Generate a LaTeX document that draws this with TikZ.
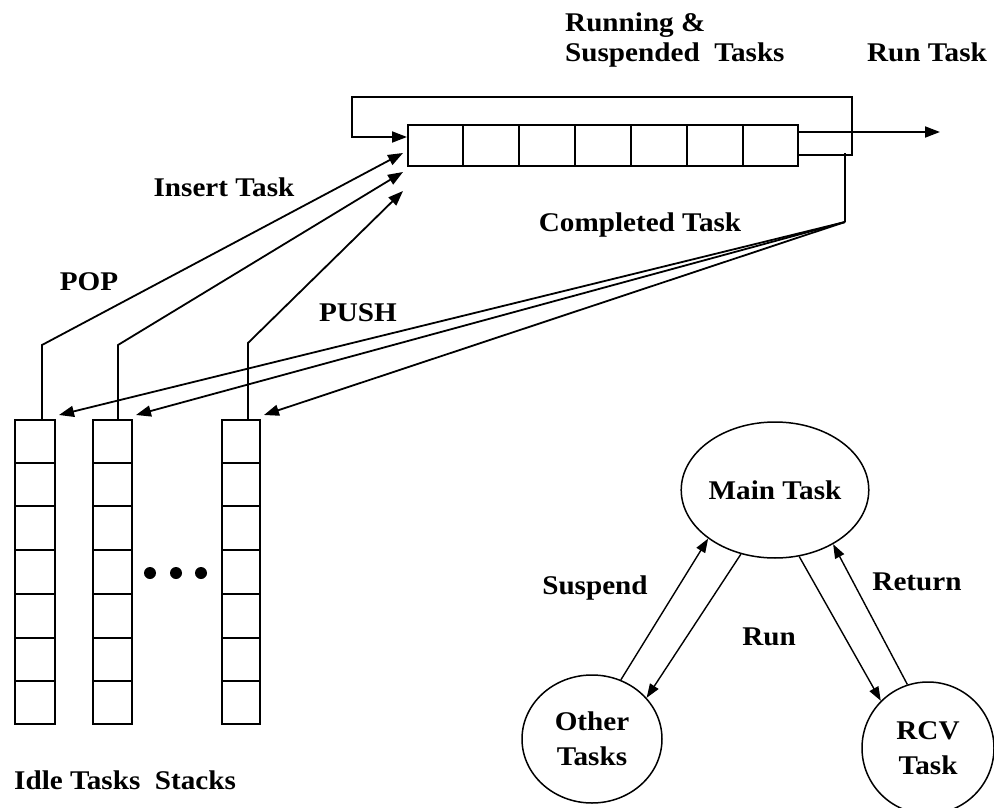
\documentclass[tikz,border=0pt]{standalone}
\usepackage{fontspec}
\setmainfont{Liberation Serif}
\newfontfamily\lblfont{Liberation Serif}[FakeStretch=1.08]
\usetikzlibrary{arrows.meta,shapes.geometric,calc}
\begin{document}
\begin{tikzpicture}[x=1pt,y=-1pt,
  lbl/.style={font=\lblfont\fontsize{27}{30}\bfseries\selectfont, inner sep=0pt},
  ln/.style={line width=1.8pt},
  arr/.style={line width=1.8pt,-{Triangle[length=15pt,width=11pt]}},
  sarr/.style={line width=1.4pt,-{Triangle[length=14pt,width=10pt]}},
  cellbox/.style={draw,line width=2pt,inner sep=0pt,anchor=north west},
  state/.style={draw,ellipse,line width=1.5pt,inner sep=0pt,align=center,
    font=\lblfont\fontsize{27}{35}\bfseries\selectfont}
]
\useasboundingbox (0,0) rectangle (994,808);
\fill[white] (0,0) rectangle (994,808);

% ---- queue ----
\node[cellbox, minimum width=390pt, minimum height=41pt] (queue) at (407,124) {};
\foreach \i in {1,...,6}
  \draw[line width=2pt] ($(queue.north west)!\i/7!(queue.north east)$) -- ($(queue.south west)!\i/7!(queue.south east)$);

% ---- stacks ----
\node[cellbox, minimum width=40pt, minimum height=304pt] (s1) at (14,419) {};
\node[cellbox, minimum width=39pt, minimum height=304pt] (s2) at (92,419) {};
\node[cellbox, minimum width=38pt, minimum height=304pt] (s3) at (221,419) {};
\foreach \s in {s1,s2,s3}
  \foreach \i in {1,...,6}
    \draw[line width=2pt] ($(\s.north west)!\i/7!(\s.south west)$) -- ($(\s.north east)!\i/7!(\s.south east)$);

% dots
\foreach \x/\n in {150/d1,176/d2,201/d3}
  \fill (\x,573) circle[radius=6pt] coordinate (\n);

% ---- loop back into queue ----
\coordinate (qbot) at ($(queue.south east)+(0,-12)$);
\coordinate (qtop) at ($(queue.north east)+(0,8)$);
\coordinate (loopR) at (852,97);
\coordinate (loopL) at (352,97);
\coordinate (qin) at ($(queue.north west)+(0,13)$);
\draw[arr] (qbot) -- (qbot -| loopR) -- (loopR) -- (loopL) -- (loopL |- qin) -- (qin);

% ---- run task ----
\coordinate (runend) at (940,132);
\draw[arr] (qtop) -- (runend);

% ---- completed task (push) ----
\coordinate (cdown) at (845,153);
\coordinate (cbend) at (845,222);
\draw[ln] (cdown) -- (cbend);
\draw[arr] (cbend) -- ($(s1.north east)+(3,-4)$);
\draw[arr] (cbend) -- ($(s2.north east)+(3,-4)$);
\draw[arr] (cbend) -- ($(s3.north east)+(3,-4)$);

% ---- pop / insert ----
\coordinate (p1) at (42,345);
\coordinate (p2) at (118,345);
\coordinate (p3) at (248,343);
\coordinate (i1) at (403,153);
\coordinate (i2) at (403,172);
\coordinate (i3) at (403,191);
\draw[arr] (s1.north -| p1) -- (p1) -- (i1);
\draw[arr] (s2.north -| p2) -- (p2) -- (i2);
\draw[arr] (s3.north -| p3) -- (p3) -- (i3);

% ---- state diagram ----
\node[state, minimum width=152pt, minimum height=136pt] (main) at (775,490) {Main Task};
\node[state, minimum width=140pt, minimum height=128pt] (other) at (592,739) {Other\\Tasks};
\node[state, minimum width=132pt, minimum height=132pt] (rcv) at (928,748) {RCV\\Task};
\draw[sarr] (other.64) -- (main.216);
\draw[sarr] (main.242) -- (other.37);
\draw[sarr] (main.290) -- (rcv.135);
\draw[sarr] (rcv.108) -- (main.317);

% ---- labels ----
\node[lbl, anchor=west] (lrun1) at (565,25) {Running \&};
\node[lbl, anchor=west] (lrun2) at (565,55) {Suspended\ \ Tasks};
\node[lbl] (lruntask) at (927,52) {Run Task};
\node[lbl] (linsert) at (224,187) {Insert Task};
\node[lbl] (lcompl) at (640,225) {Completed Task};
\node[lbl] (lpop) at (89,282) {POP};
\node[lbl] (lpush) at (358,313) {PUSH};
\node[lbl, anchor=west] (lidle) at (14,780) {Idle Tasks\ \ Stacks};
\node[lbl] (lsusp) at (595,588) {Suspend};
\node[lbl] (lrunst) at (769,637) {Run};
\node[lbl] (lret) at (917,582) {Return};
\end{tikzpicture}
\end{document}
